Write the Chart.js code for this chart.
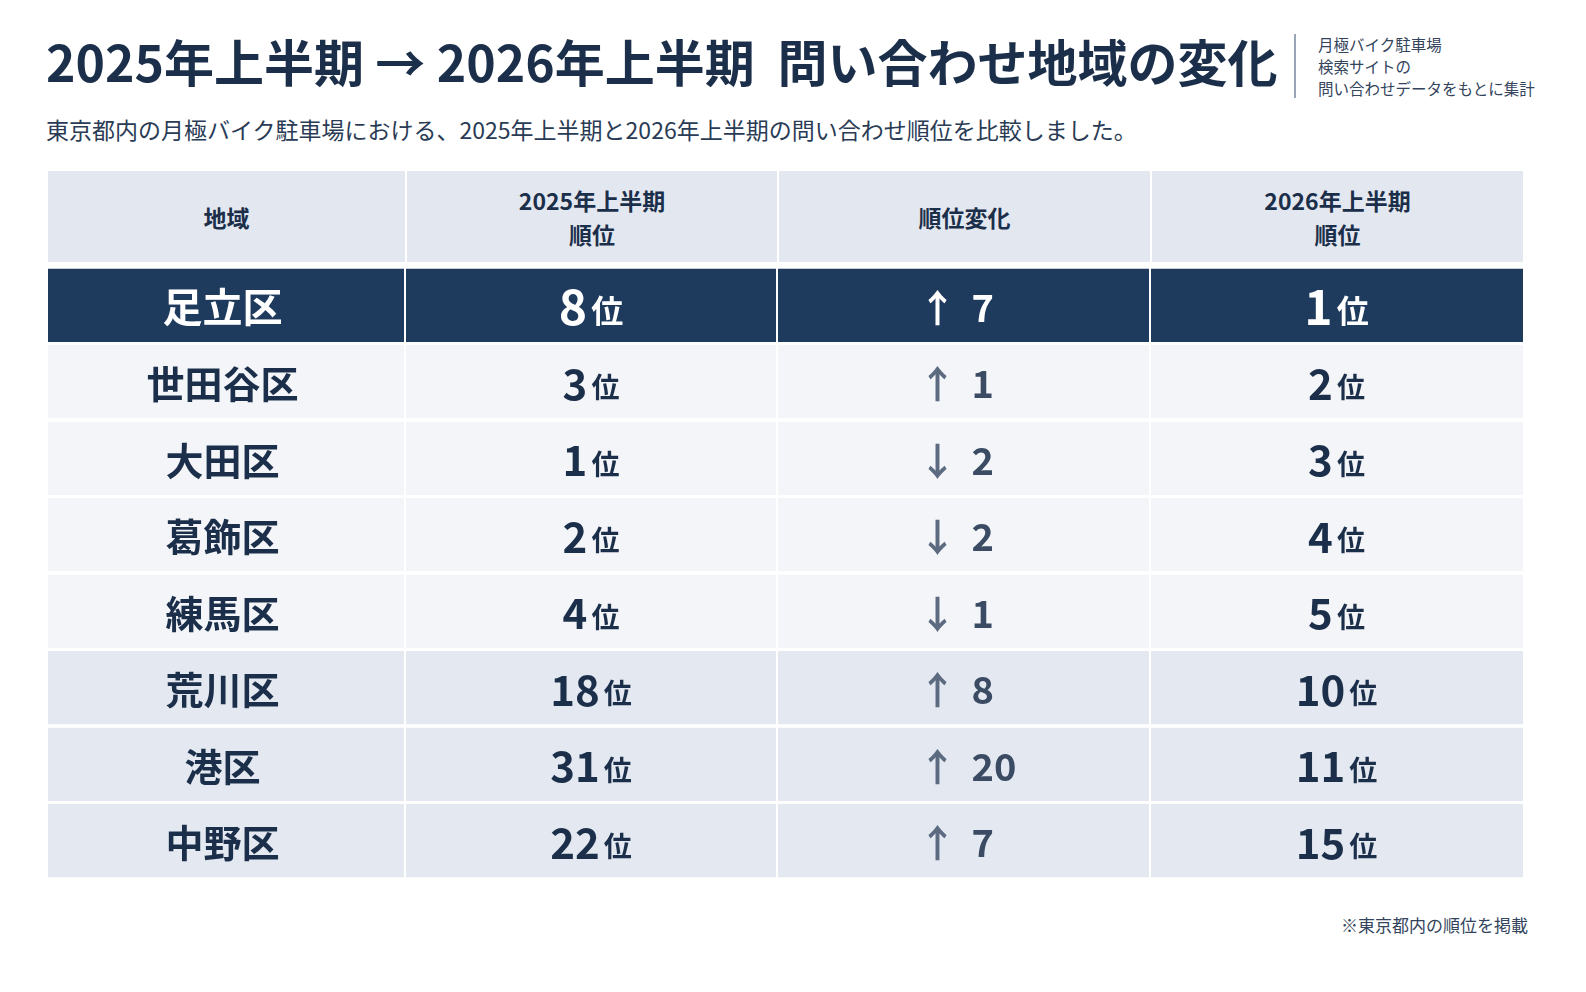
<!DOCTYPE html>
<html><head><meta charset="utf-8">
<script src="https://cdn.jsdelivr.net/npm/chart.js@4"></script>
<style>
body{margin:0;width:1586px;height:992px;background:#fff;font-family:"Noto Sans CJK JP","Noto Sans",sans-serif;color:#1c2f4a;position:relative;overflow:hidden}
#title{position:absolute;left:46px;top:24px;font-size:50px;font-weight:700;letter-spacing:0px;white-space:nowrap}
#sep{position:absolute;left:1294px;top:34px;width:2px;height:64px;background:#9aa5b5}
#src{position:absolute;left:1318px;top:33px;font-size:15.5px;line-height:22px;color:#33445c;white-space:nowrap}
#sub{position:absolute;left:46px;top:112px;font-size:23px;color:#2a3b55;white-space:nowrap}
#hdr{position:absolute;left:48px;top:171px;width:1475px;height:91px;display:flex;gap:2px}
#hdr div{background:#e3e8f0;flex:none;display:flex;align-items:center;justify-content:center;text-align:center;font-size:23px;font-weight:700;line-height:34px}
#wrap{position:absolute;left:48px;top:267px;width:1475px;height:612px}
#note{position:absolute;right:58px;top:912px;font-size:17px;color:#33445c}
</style></head><body>
<div id="title">2025年上半期 → 2026年上半期&nbsp; 問い合わせ地域の変化</div>
<div id="sep"></div>
<div id="src">月極バイク駐車場<br>検索サイトの<br>問い合わせデータをもとに集計</div>
<div id="sub">東京都内の月極バイク駐車場における、2025年上半期と2026年上半期の問い合わせ順位を比較しました。</div>
<div id="hdr"><div style="width:357px">地域</div><div style="width:370px">2025年上半期<br>順位</div><div style="width:371px">順位変化</div><div style="width:371px">2026年上半期<br>順位</div></div>
<div id="wrap"><canvas id="c"></canvas></div>
<div id="note">※東京都内の順位を掲載</div>
<script>
const regions=['足立区','世田谷区','大田区','葛飾区','練馬区','荒川区','港区','中野区'];
const rank2025=[8,3,1,2,4,18,31,22];
const rank2026=[1,2,3,4,5,10,11,15];
const change=[7,1,-2,-2,-1,8,20,7];
const colEdges=[0,357,729,1102,1475];
const rowColor=i=>i===0?'#1e3a5c':(i<5?'#f3f5f8':'#e4e9f1');
const datasets=[0,1,2,3].map(c=>({
  data:regions.map(()=>[colEdges[c],colEdges[c+1]]),
  backgroundColor:regions.map((r,i)=>rowColor(i)),
  borderColor:'#ffffff',borderWidth:{left:c?1:0,right:c<3?1:0,top:0,bottom:0},borderSkipped:false,
  barPercentage:1,categoryPercentage:0.96,grouped:false
}));
const textPlugin={id:'txt',afterDatasetsDraw(ch){
  const ctx=ch.ctx,x=ch.scales.x,y=ch.scales.y;
  const cx=c=>x.getPixelForValue((colEdges[c]+colEdges[c+1])/2);
  const F='"Noto Sans CJK JP","Noto Sans",sans-serif';
  regions.forEach((r,i)=>{
    const yy=y.getPixelForValue(i)+2;
    const dark=i===0, col=dark?'#ffffff':'#1c2f4a', gray=dark?'#ffffff':'#5c6b80';
    ctx.save();ctx.textBaseline='middle';
    ctx.fillStyle=col;ctx.textAlign='center';ctx.font=`bold ${dark?40:38}px ${F}`;
    ctx.fillText(r,cx(0)-4,yy);
    const rank=(v,c)=>{
      ctx.font=`bold ${dark?48:42}px ${F}`;const w1=ctx.measureText(String(v)).width;
      ctx.font=`bold ${dark?32:28}px ${F}`;const w2=ctx.measureText('位').width;
      const s=cx(c)-(w1+w2+4)/2;ctx.textAlign='left';
      ctx.font=`bold ${dark?48:42}px ${F}`;ctx.fillText(String(v),s,yy);
      ctx.font=`bold ${dark?32:28}px ${F}`;ctx.fillText('位',s+w1+4,yy+4);
    };
    ctx.fillStyle=col;rank(rank2025[i],1);rank(rank2026[i],3);
    ctx.textAlign='center';ctx.fillStyle=gray;ctx.font=`bold 38px ${F}`;
    ctx.fillText(change[i]>0?'↑':'↓',cx(2)-26,yy);
    ctx.fillStyle=dark?'#fff':'#3a4b63';ctx.textAlign='left';
    ctx.fillText(String(Math.abs(change[i])),cx(2)+8,yy);
    ctx.restore();
  });
}};
new Chart(document.getElementById('c'),{type:'bar',
  data:{labels:regions,datasets},
  options:{indexAxis:'y',responsive:true,maintainAspectRatio:false,animation:false,
    layout:{padding:0},
    plugins:{legend:{display:false},tooltip:{enabled:false}},
    scales:{x:{type:'linear',min:0,max:1475,display:false},y:{display:false}}},
  plugins:[textPlugin]});
</script></body></html>
